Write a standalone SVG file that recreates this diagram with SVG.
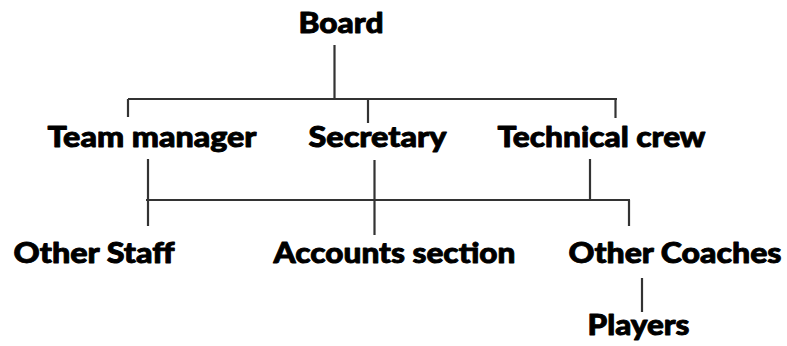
<svg xmlns="http://www.w3.org/2000/svg" width="787" height="346" viewBox="0 0 787 346">
  <style>
    .lbl { font-family: "Lato", "Open Sans", "DejaVu Sans", sans-serif; font-weight: 900; font-size: 29px; fill: #000; stroke: #000; stroke-width: 0.9; stroke-linejoin: round; text-anchor: middle; }
    .wire { stroke: #333; stroke-width: 2.2; fill: none; stroke-linecap: butt; }
  </style>
  <rect width="787" height="346" fill="#fff"/>

  <g id="connectors">
    <!-- Board to first tier -->
    <path class="wire" d="M334.5 45 V99"/>
    <path class="wire" d="M128 99 H617"/>
    <path class="wire" d="M128 99 V117"/>
    <path class="wire" d="M368 100 V123"/>
    <path class="wire" d="M615.5 99 V118"/>
    <!-- first tier to second tier -->
    <path class="wire" d="M148 159 V226"/>
    <path class="wire" d="M374.5 160 V235"/>
    <path class="wire" d="M590 159 V200"/>
    <path class="wire" d="M146 200 H630"/>
    <path class="wire" d="M629 200 V226"/>
    <!-- coaches to players -->
    <path class="wire" d="M642 278 V312"/>
  </g>

  <g id="board"><text class="lbl" x="341" y="33" textLength="85" lengthAdjust="spacingAndGlyphs">Board</text></g>
  <g id="team-manager"><text class="lbl" x="152" y="147" textLength="209" lengthAdjust="spacingAndGlyphs">Team manager</text></g>
  <g id="secretary"><text class="lbl" x="377.5" y="147" textLength="138" lengthAdjust="spacingAndGlyphs">Secretary</text></g>
  <g id="technical-crew"><text class="lbl" x="601.5" y="147" textLength="208" lengthAdjust="spacingAndGlyphs">Technical crew</text></g>
  <g id="other-staff"><text class="lbl" x="94" y="263" textLength="161" lengthAdjust="spacingAndGlyphs">Other Staff</text></g>
  <g id="accounts-section"><text class="lbl" x="394.5" y="263" textLength="242" lengthAdjust="spacingAndGlyphs">Accounts section</text></g>
  <g id="other-coaches"><text class="lbl" x="675" y="263" textLength="213" lengthAdjust="spacingAndGlyphs">Other Coaches</text></g>
  <g id="players"><text class="lbl" x="638.5" y="335" textLength="102" lengthAdjust="spacingAndGlyphs">Players</text></g>
</svg>
